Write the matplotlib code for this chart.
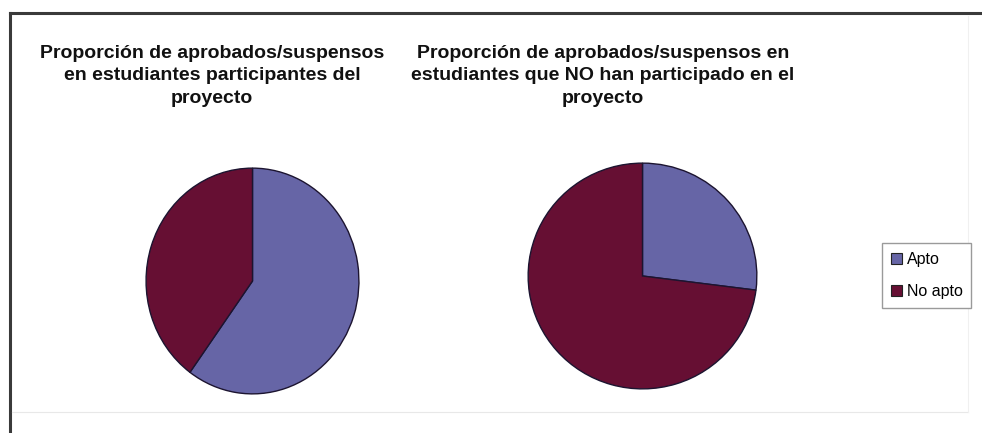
import matplotlib
matplotlib.use("Agg")
import matplotlib.pyplot as plt
from matplotlib.patches import Patch
from matplotlib.lines import Line2D

plt.rcParams['font.family'] = ['Liberation Sans', 'DejaVu Sans']

# datos (%)
categorias = ['Apto', 'No apto']
participantes = [60, 40]
no_participantes = [27, 73]
colores = ['#6665a6', '#660f33']
titulos = [
    'Proporción de aprobados/suspensos\nen estudiantes participantes del\nproyecto',
    'Proporción de aprobados/suspensos en\nestudiantes que NO han participado en el\nproyecto',
]

W, H = 982, 433
fig = plt.figure(figsize=(W / 100, H / 100), dpi=100)
fig.patch.set_facecolor('white')


def caja(x, y, w, h):
    # rectangulo en pixeles (origen arriba a la izquierda)
    return [x / W, 1 - (y + h) / H, w / W, h / H]


# marco del grafico
fig.add_artist(Line2D([10 / W, 1], [1 - 13 / H] * 2, color='#3a3a3a', lw=2.2))
fig.add_artist(Line2D([10 / W] * 2, [0, 1 - 13 / H], color='#3a3a3a', lw=2.2))
fig.add_artist(Line2D([12 / W, 968 / W], [1 - 412 / H] * 2, color='#e8e8e8', lw=0.8))
fig.add_artist(Line2D([968 / W] * 2, [1 - 412 / H, 1 - 16 / H], color='#f0f0f0', lw=0.8))

pies = [
    (participantes, caja(145, 167, 215, 228), 212),
    (no_participantes, caja(527, 162, 231, 228), 603),
]

for (valores, rect, tx), titulo in zip(pies, titulos):
    ax = fig.add_axes(rect)
    ax.pie(valores, colors=colores, startangle=90, counterclock=False,
           wedgeprops=dict(edgecolor='#1c1430', linewidth=1.0))
    ax.set_aspect('auto')
    ax.set_xlim(-1.01, 1.01)
    ax.set_ylim(-1.01, 1.01)
    fig.text(tx / W, 1 - 76 / H, titulo, ha='center', va='center',
             fontsize=14, fontweight='bold', linespacing=1.45, color='#111111')

handles = [Patch(facecolor=c, edgecolor='#222222', linewidth=0.8) for c in colores]
fig.legend(handles, categorias, loc='upper left',
           bbox_to_anchor=(882 / W, 1 - 243 / H), borderaxespad=0,
           frameon=True, fancybox=False, edgecolor='#9a9a9a', framealpha=1,
           fontsize=11.5, handlelength=0.7, handleheight=0.7,
           handletextpad=0.3, labelspacing=1.1, borderpad=0.55)

fig.savefig('out.png', dpi=100)
